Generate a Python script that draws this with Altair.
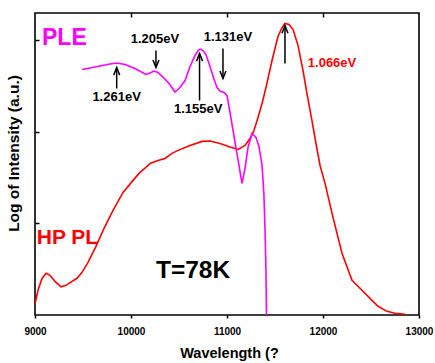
import altair as alt
import pandas as pd

# HP PL spectrum (red)
pl_wavelength = [9000, 9031, 9073, 9115, 9156, 9208, 9271, 9323, 9385, 9438, 9490, 9552, 9635,
                 9719, 9813, 9917, 10021, 10094, 10167, 10198, 10281, 10354, 10427, 10490, 10615,
                 10740, 10823, 10927, 11031, 11115, 11188, 11240, 11281, 11323, 11365, 11406,
                 11469, 11531, 11573, 11604, 11646, 11688, 11740, 11792, 11833, 11885, 11927,
                 11969, 12021, 12104, 12198, 12302, 12406, 12490, 12573, 12667, 12750, 12854]
pl_value = [0.12, 0.27, 0.40, 0.455, 0.434, 0.368, 0.308, 0.324, 0.368, 0.401, 0.466, 0.575, 0.750,
            0.947, 1.143, 1.340, 1.471, 1.558, 1.624, 1.656, 1.689, 1.711, 1.766, 1.799, 1.853,
            1.897, 1.902, 1.874, 1.836, 1.809, 1.853, 1.929, 2.016, 2.159, 2.311, 2.486,
            2.781, 3.043, 3.141, 3.185, 3.174, 3.119, 2.944, 2.671, 2.420, 2.125, 1.874,
            1.634, 1.438, 1.067, 0.674, 0.379, 0.270, 0.182, 0.095, 0.040, 0.019, 0.008]

# PLE spectrum (magenta)
ple_wavelength = [9490, 9573, 9677, 9781, 9854, 9938, 10042, 10156, 10198, 10240, 10281, 10333,
                  10396, 10458, 10510, 10563, 10615, 10656, 10698, 10719, 10750, 10781, 10823,
                  10865, 10896, 10927, 10969, 11000, 11031, 11063, 11094, 11125, 11156, 11188,
                  11219, 11260, 11302, 11333, 11365, 11385, 11396, 11406, 11411]
ple_value = [2.682, 2.699, 2.721, 2.742, 2.753, 2.737, 2.693, 2.628, 2.644, 2.666, 2.650, 2.600,
             2.530, 2.437, 2.486, 2.562, 2.715, 2.813, 2.890, 2.906, 2.890, 2.846, 2.715,
             2.573, 2.486, 2.448, 2.431, 2.399, 2.213, 2.016, 1.820, 1.634, 1.438, 1.602,
             1.831, 1.984, 1.941, 1.842, 1.634, 1.307, 0.925, 0.488, 0.0]

# peak annotations
ann_label = ["1.261eV", "1.205eV", "1.155eV", "1.131eV", "1.066eV"]
ann_label_x = [9850, 10250, 10700, 11010, 12094]
ann_label_y = [2.38, 3.02, 2.25, 3.04, 2.75]
ann_label_color = ["black", "black", "black", "black", "#FF0000"]
arrow_x = [9851, 10260, 10714, 10958, 11604]
arrow_tail = [2.475, 2.890, 2.344, 2.912, 2.748]
arrow_tip = [2.704, 2.704, 2.857, 2.584, 3.162]
arrow_dir = ["up", "down", "up", "down", "up"]

# big labels
big_text = ["PLE", "HP PL", "T=78K"]
big_x = [9073, 9018, 10260]
big_y = [3.03, 0.84, 0.477]
big_color = ["#FF00FF", "#FF0000", "black"]
big_size = [23, 21, 24.5]

x_ticks = [9000, 10000, 11000, 12000, 13000]

W, H = 384, 302
FONT = "Liberation Sans"

pl = pd.DataFrame({"w": pl_wavelength, "v": pl_value})
ple = pd.DataFrame({"w": ple_wavelength, "v": ple_value})
ann = pd.DataFrame({"label": ann_label, "x": ann_label_x, "y": ann_label_y, "c": ann_label_color})
arr = pd.DataFrame({"x": arrow_x, "tail": arrow_tail, "tip": arrow_tip, "dir": arrow_dir})
big = pd.DataFrame({"t": big_text, "x": big_x, "y": big_y, "c": big_color, "s": big_size})

xs = alt.Scale(domain=[9000, 13000], nice=False, zero=False)
ys = alt.Scale(domain=[0, 3.3], nice=False, zero=False)

red = alt.Chart(pl).mark_line(color="#FF0000", strokeWidth=1.6, clip=True).encode(
    x=alt.X("w:Q", scale=xs, axis=alt.Axis(
        orient="bottom", values=x_ticks, format="d", title="Wavelength (?",
        labelFont=FONT, labelFontSize=10, labelFontWeight="bold", labelColor="black",
        labelFlush=False, labelOverlap=False,
        labelPadding=8, tickSize=3, tickWidth=1.5, tickColor="black", domain=False, grid=False,
        titleFont=FONT, titleFontSize=14.5, titleFontWeight="bold", titleColor="black",
        titleX=194, titleY=42, titleBaseline="alphabetic", titleAlign="center")),
    y=alt.Y("v:Q", scale=ys, axis=alt.Axis(
        orient="left", labels=False, ticks=False, domain=False, grid=False,
        title="Log of Intensity (a.u.)", titleFont=FONT, titleFontSize=15.5,
        titleFontWeight="bold", titleColor="black", titleAngle=-90,
        titleX=-16.5, titleY=140, titleBaseline="alphabetic", titleAlign="center")),
)

mag = alt.Chart(ple).mark_line(color="#FF00FF", strokeWidth=1.6, clip=True).encode(
    x=alt.X("w:Q", scale=xs, axis=alt.Axis(
        orient="bottom", offset=-H, values=[10000, 11000, 12000], labels=False, title=None,
        tickSize=4, tickWidth=1.5, tickColor="black", domain=False, grid=False)),
    y=alt.Y("v:Q", scale=ys, axis=alt.Axis(
        orient="right", offset=-W, values=[1, 2, 3], labels=False, title=None,
        tickSize=4, tickWidth=1.5, tickColor="black", domain=False, grid=False)),
)

shafts = alt.Chart(arr).mark_rule(color="black", strokeWidth=1.5).encode(
    x=alt.X("x:Q", scale=xs, axis=None),
    y=alt.Y("tail:Q", scale=ys, axis=None),
    y2="tip:Q",
)

heads_up = alt.Chart(arr).transform_filter(alt.datum.dir == "up").mark_point(
    shape="M-0.75,1.9L0,0L0.75,1.9", size=64, filled=False, color="black",
    strokeWidth=1.5, opacity=1).encode(
    x=alt.X("x:Q", scale=xs, axis=None),
    y=alt.Y("tip:Q", scale=ys, axis=None),
)

heads_down = alt.Chart(arr).transform_filter(alt.datum.dir == "down").mark_point(
    shape="M-0.75,-1.9L0,0L0.75,-1.9", size=64, filled=False, color="black",
    strokeWidth=1.5, opacity=1).encode(
    x=alt.X("x:Q", scale=xs, axis=None),
    y=alt.Y("tip:Q", scale=ys, axis=None),
)

labels = alt.Chart(ann).mark_text(font=FONT, fontSize=13, fontWeight="bold",
                                  align="center", baseline="middle").encode(
    x=alt.X("x:Q", scale=xs, axis=None),
    y=alt.Y("y:Q", scale=ys, axis=None),
    text="label:N",
    color=alt.Color("c:N", scale=None),
)

bigtext = alt.Chart(big).mark_text(font=FONT, fontWeight="bold",
                                   align="left", baseline="middle").encode(
    x=alt.X("x:Q", scale=xs, axis=None),
    y=alt.Y("y:Q", scale=ys, axis=None),
    text="t:N",
    color=alt.Color("c:N", scale=None),
    size=alt.Size("s:Q", scale=None),
)

chart = alt.layer(red, mag, shafts, heads_up, heads_down, labels, bigtext).resolve_axis(
    x="independent", y="independent"
).properties(
    width=W, height=H,
    autosize=alt.AutoSizeParams(type="none"),
    padding={"left": 35, "top": 13, "right": 16, "bottom": 48},
    background="white",
).configure_view(stroke="black", strokeWidth=1.6)

chart.save("out.html", embed_options={"renderer": "svg", "actions": False})
